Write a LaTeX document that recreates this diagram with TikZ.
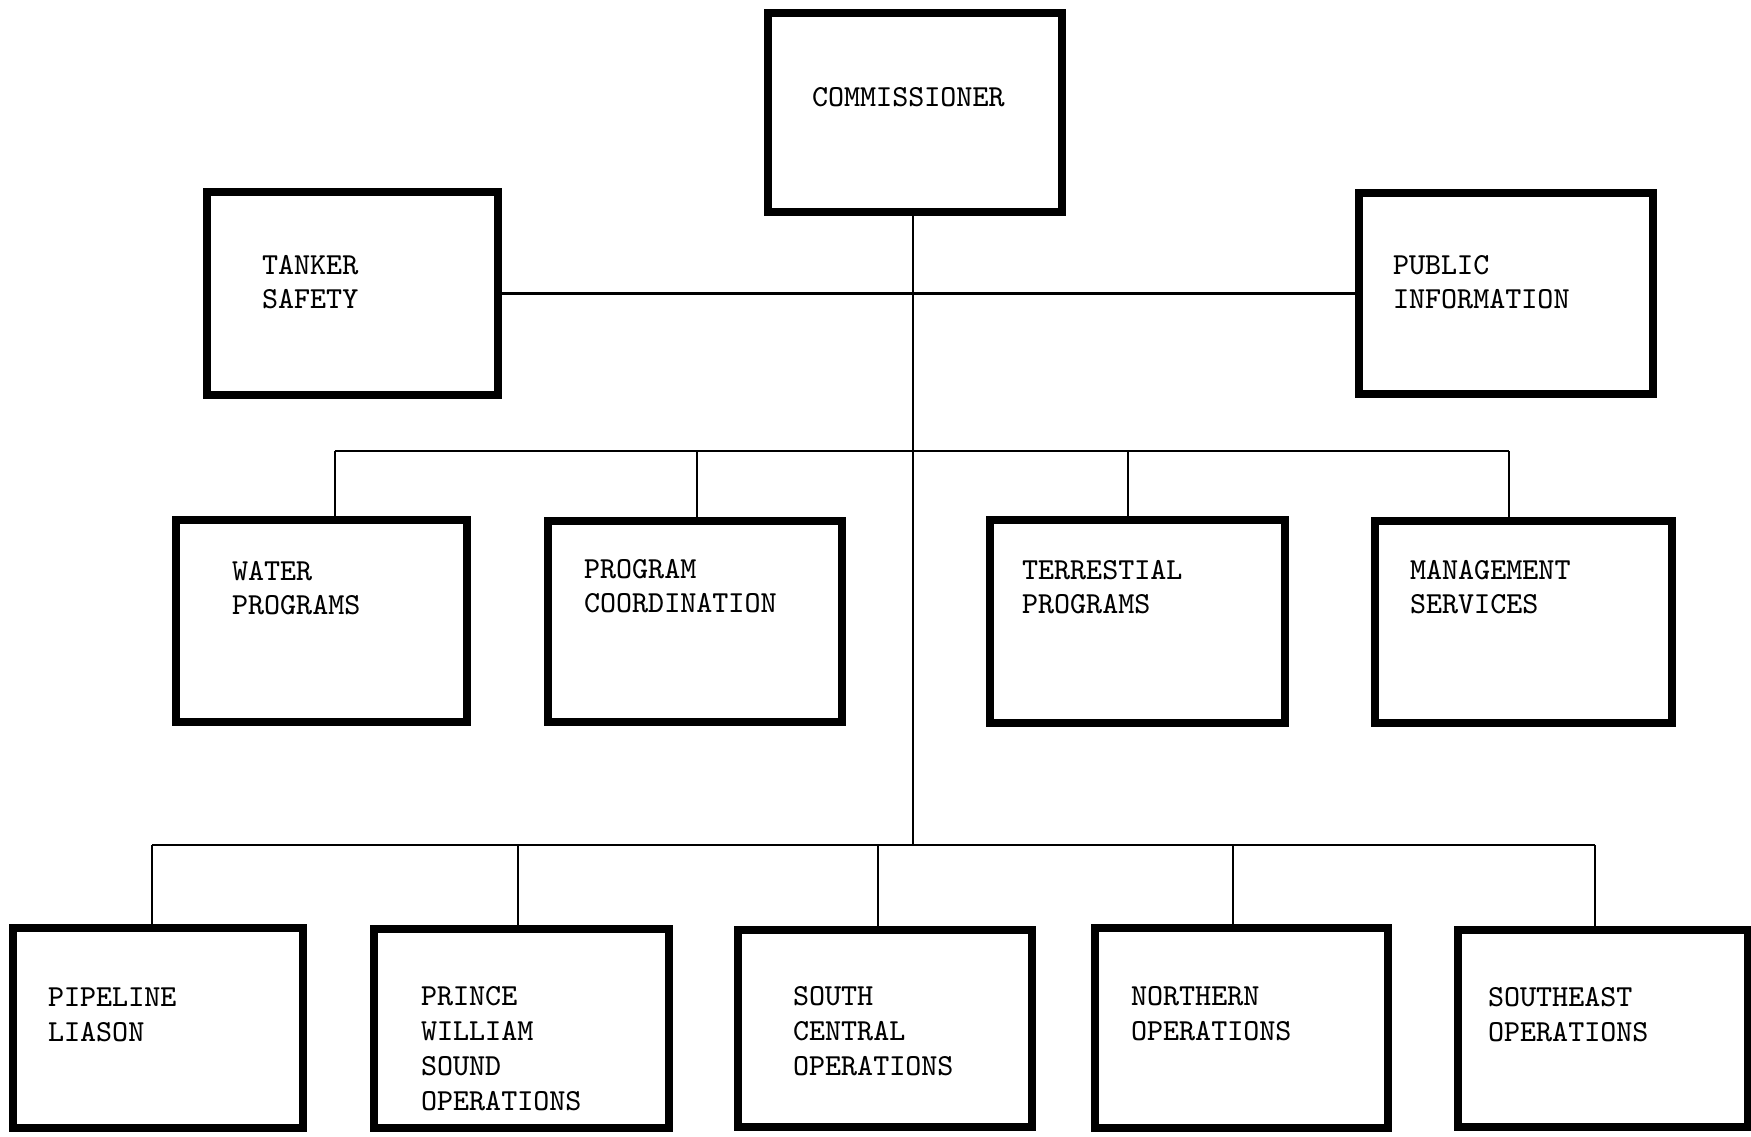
\documentclass[tikz,border=0pt]{standalone}
\usepackage{fontspec}
\begin{document}
\begin{tikzpicture}[x=0.1mm,y=-0.1mm,
  unitbox/.style={draw=black, line width=0.75mm, rectangle, inner sep=0pt,
    outer sep=0pt, anchor=north west},
  caption/.style={anchor=north west, inner sep=0pt, outer sep=0pt, align=left,
    font=\ttfamily\fontsize{8.7pt}{9.8pt}\selectfont},
  widecaption/.style={caption, font=\ttfamily\fontsize{8.7pt}{10pt}\selectfont},
  link/.style={line width=0.25mm}]
\fill[white] (0,0) rectangle (1751,1136);
\useasboundingbox (0,0) rectangle (1751,1136);

% top level
\node[unitbox, minimum width=29.4mm, minimum height=19.9mm] (comm) at (768,13) {};
\node[caption] (commtxt) at (812,87) {COMMISSIONER};

% staff units beside the commissioner
\node[unitbox, minimum width=29.1mm, minimum height=20.3mm] (tanker) at (207,192) {};
\node[caption] (tankertxt) at (262,255) {TANKER\\SAFETY};
\node[unitbox, minimum width=29.4mm, minimum height=20.1mm] (public) at (1359,193) {};
\node[caption] (publictxt) at (1393,255) {PUBLIC\\INFORMATION};

% program divisions
\node[unitbox, minimum width=29.1mm, minimum height=20.2mm] (water) at (176,520) {};
\node[caption] (watertxt) at (232,561) {WATER\\PROGRAMS};
\node[unitbox, minimum width=29.4mm, minimum height=20.1mm] (coord) at (548,521) {};
\node[caption] (coordtxt) at (584,559) {PROGRAM\\COORDINATION};
\node[unitbox, minimum width=29.5mm, minimum height=20.3mm] (terr) at (990,520) {};
\node[caption] (terrtxt) at (1022,560) {TERRESTIAL\\PROGRAMS};
\node[unitbox, minimum width=29.7mm, minimum height=20.2mm] (mgmt) at (1375,521) {};
\node[caption] (mgmttxt) at (1410,560) {MANAGEMENT\\SERVICES};

% regional operations
\node[unitbox, minimum width=29.0mm, minimum height=20.0mm] (pipe) at (13,928) {};
\node[widecaption] (pipetxt) at (48,988) {PIPELINE\\LIASON};
\node[unitbox, minimum width=29.5mm, minimum height=19.9mm] (pws) at (374,929) {};
\node[widecaption] (pwstxt) at (421,986) {PRINCE\\WILLIAM\\SOUND\\OPERATIONS};
\node[unitbox, minimum width=29.4mm, minimum height=19.7mm] (south) at (738,930) {};
\node[widecaption] (southtxt) at (793,986) {SOUTH\\CENTRAL\\OPERATIONS};
\node[unitbox, minimum width=29.3mm, minimum height=20.0mm] (north) at (1095,928) {};
\node[widecaption] (northtxt) at (1131,986) {NORTHERN\\OPERATIONS};
\node[unitbox, minimum width=29.0mm, minimum height=19.7mm] (seast) at (1458,930) {};
\node[widecaption] (seasttxt) at (1488,987) {SOUTHEAST\\OPERATIONS};

% bus lines
\coordinate (spine) at (913,845);
\coordinate (bus2l) at (335,451);
\coordinate (bus2r) at (1509,451);
\coordinate (d2a) at (697,451);
\coordinate (d2b) at (1128,451);
\coordinate (bus3l) at (152,845);
\coordinate (bus3r) at (1595,845);
\coordinate (d3a) at (518,845);
\coordinate (d3b) at (878,845);
\coordinate (d3c) at (1233,845);

\draw[link] (tanker.east) -- (public.west);
\draw[link] (comm.south -| spine) -- (spine);
\draw[link] (bus2l) -- (bus2r);
\draw[link] (bus3l) -- (bus3r);

\draw[link] (bus2l) -- (bus2l |- water.north);
\draw[link] (d2a) -- (d2a |- coord.north);
\draw[link] (d2b) -- (d2b |- terr.north);
\draw[link] (bus2r) -- (bus2r |- mgmt.north);

\draw[link] (bus3l) -- (bus3l |- pipe.north);
\draw[link] (d3a) -- (d3a |- pws.north);
\draw[link] (d3b) -- (d3b |- south.north);
\draw[link] (d3c) -- (d3c |- north.north);
\draw[link] (bus3r) -- (bus3r |- seast.north);
\end{tikzpicture}
\end{document}
